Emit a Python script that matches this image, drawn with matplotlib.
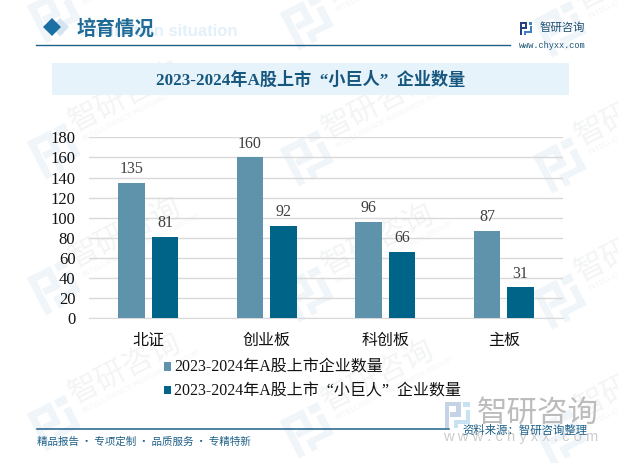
import matplotlib
matplotlib.use('Agg')
import matplotlib.pyplot as plt
from matplotlib.patches import Rectangle, Polygon
from matplotlib.transforms import Affine2D

categories = ['北证', '创业板', '科创板', '主板']
listed = [135, 160, 96, 87]
giants = [81, 92, 66, 31]
y_ticks = list(range(0, 181, 20))
series_names = ['2023-2024年A股上市企业数量', '2023-2024年A股上市  “小巨人”  企业数量']
title = '2023-2024年A股上市  “小巨人”  企业数量'

W, H = 618, 463
FONT = ['Liberation Serif', 'Noto Sans CJK SC']
SANS = ['Noto Sans CJK SC', 'DejaVu Sans']
plt.rcParams['font.family'] = FONT

fig = plt.figure(figsize=(W / 100, H / 100), dpi=100, facecolor='white')

bg = fig.add_axes([0, 0, 1, 1], zorder=0)
bg.set_xlim(0, W)
bg.set_ylim(H, 0)
bg.axis('off')

STROKES = [(0, 0, .62, .17), (0, 0, .17, 1), (.45, 0, .17, .56), (.2, .4, .42, .16),
           (.72, 0, .28, .2), (.82, .3, .18, .55), (.35, .7, .65, .15), (.35, .7, .15, .3)]

def logo(x, y, s, col, z=1, angle=0, sy=None, col2=None):
    sy = sy or s
    tr = Affine2D().rotate_deg_around(x, y, angle) + bg.transData
    for i, (a, b, w, h) in enumerate(STROKES):
        fc = col2 if (col2 and i >= 4) else col
        bg.add_patch(Rectangle((x + a * s, y + b * sy), w * s, h * sy, fc=fc, ec='none',
                               zorder=z, transform=tr))

# watermarks
for col in range(3):
    for row in range(4):
        x = 27 + 253 * col
        y = -16 + 136 * row + 7 * col
        logo(x, y + 22, 42, '#f0f5fa', 1, angle=-27)
        bg.text(x + 48, y + 12 + 0, '智研咨询', fontsize=22, color='#f3f4f6', rotation=27,
                family=SANS, ha='left', va='baseline', rotation_mode='anchor', zorder=1)
        bg.text(x + 57, y + 21, 'INTELLIGENCE RESEARCH GROUP', fontsize=5.5, color='#f3f5f7', rotation=27,
                family='Liberation Sans', ha='left', va='baseline', rotation_mode='anchor', zorder=1)

# header
bg.text(237, 32, 'Incubation situation', fontsize=12, color='#e3f0f9', weight='bold',
        family='Liberation Sans', va='center', ha='right', zorder=2)
bg.add_patch(Polygon([(60, 18), (69, 27), (60, 36), (51, 27)], fc='#d5e4ef', ec='none', zorder=2))
bg.add_patch(Polygon([(52, 18), (61, 27), (52, 36), (43, 27)], fc='#1a6fa5', ec='none', zorder=3))
bg.text(77, 29, '培育情况', fontsize=14, color='#1f6a96', weight='bold', family=SANS, va='center', zorder=3)
bg.plot([36, 510], [45, 45], color='#1f6088', lw=1, zorder=3)
logo(520, 22, 12, '#24407f', 3, sy=13, col2='#3f7fc4')
bg.text(540, 28, '智研咨询', fontsize=8.2, color='#1d4f70', family=SANS, va='center', zorder=3)
bg.text(519, 46, 'www.chyxx.com', fontsize=6.2, color='#1d5578', family='Liberation Mono', va='center', zorder=3)

# title band
bg.add_patch(Rectangle((52, 63), 517, 32, fc='#e6f3fb', ec='none', alpha=0.95, zorder=2))
bg.text(310.5, 80, title, fontsize=12.3, color='#17577e', weight='bold', ha='center', va='center', zorder=3)

# footer
logo(445, 402, 25, '#c5d3e6', 2, sy=26, col2='#c9e2f2')
bg.text(477, 413, '智研咨询', fontsize=22, color='#bcbcbc', family=SANS, va='center', zorder=2)
bg.text(443, 437, 'w w w . c h y x x . c o m', fontsize=10.6, color='#cccccc', family='Liberation Sans', va='center', zorder=2)
bg.plot([37, 449], [429, 429], color='#1f6088', lw=1.1, zorder=3)
bg.text(462, 430, '资料来源：智研咨询整理', fontsize=8.2, color='#1f6088', family=SANS, va='center', zorder=3)
bg.text(37, 442, '精品报告 · 专项定制 · 品质服务 · 专精特新', fontsize=7.6, color='#1f6088', family=SANS, va='center', zorder=3)

# chart
left, right, top, bottom = 89, 563, 137.3, 318.3
ax = fig.add_axes([left / W, 1 - bottom / H, (right - left) / W, (bottom - top) / H], zorder=2)
ax.patch.set_alpha(0)
xs = list(range(len(categories)))
bw = 0.224
off = 0.141
c1, c2 = '#5f92ab', '#006489'
b1 = ax.bar([x - off for x in xs], listed, bw, color=c1, zorder=3, label=series_names[0])
b2 = ax.bar([x + off for x in xs], giants, bw, color=c2, zorder=3, label=series_names[1])
for bars in (b1, b2):
    ax.bar_label(bars, padding=4, fontsize=11.5, color='#404040')
ax.set_xlim(-0.5, 3.5)
ax.set_ylim(0, 180)
ax.set_yticks(y_ticks)
ax.set_xticks(xs)
ax.set_xticklabels(categories, fontsize=11.5, color='#111111')
ax.tick_params(axis='y', length=0, labelsize=12, labelcolor='#111111', pad=9.8)
ax.tick_params(axis='x', length=0, pad=10.5)
ax.grid(axis='y', color='#d9d9d9', lw=1, zorder=0)
for s in ('top', 'right', 'left'):
    ax.spines[s].set_visible(False)
ax.spines['bottom'].set_color('#d9d9d9')

leg = fig.legend(handles=[b1, b2], labels=series_names, loc='upper left',
                 bbox_to_anchor=(164 / W, 1 - 360 / H), frameon=False, fontsize=11.5,
                 handlelength=0.45, handleheight=0.45, handletextpad=0.2, labelspacing=0.47,
                 borderpad=0, borderaxespad=0, labelcolor='#111111')

fig.savefig('out.png', dpi=100, facecolor='white')
